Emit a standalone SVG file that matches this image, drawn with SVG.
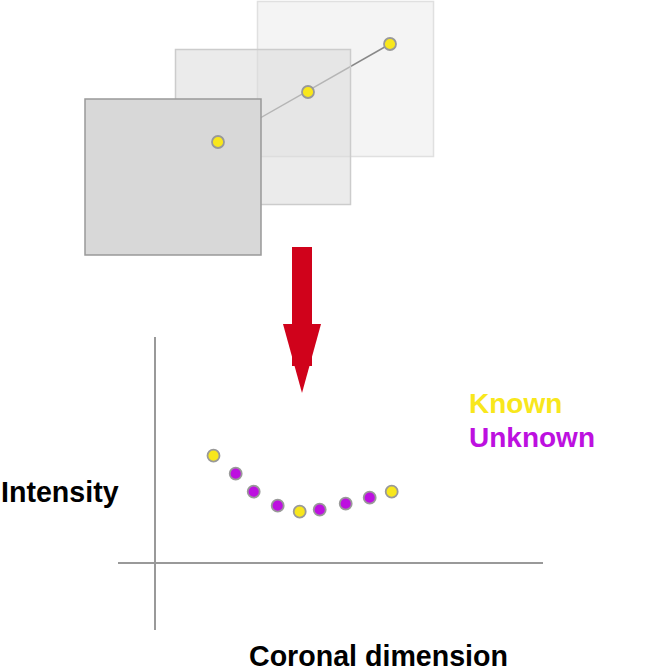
<svg xmlns="http://www.w3.org/2000/svg" width="664" height="672" viewBox="0 0 664 672">
<style>
.lbl{font-family:"Liberation Sans",Arial,Helvetica,sans-serif;font-weight:bold;font-size:28px}
.ax{font-size:28.6px}
.dot{stroke:#999;stroke-width:1.8}
.k{fill:#f8e71c}
.u{fill:#bd10e0}
.axis{stroke:#999;stroke-width:2;fill:none}
</style>
<rect width="664" height="672" fill="#fff"/>
<g id="slice3"><rect x="257.5" y="1.5" width="176" height="155" fill="#f4f4f4" stroke="#e0e0e0" stroke-width="1.5"/></g>
<g id="connectors">
<line x1="218" y1="142" x2="390" y2="44" stroke="#888" stroke-width="1.5"/>
</g>
<g id="slice2"><rect x="175.5" y="49.5" width="175" height="155" fill="#dadada" fill-opacity="0.55" stroke="#ccc" stroke-width="1.5"/></g>
<g id="slice1"><rect x="85" y="99" width="176" height="156" fill="#d8d8d8" stroke="#999" stroke-width="1.5"/></g>
<g id="slice-points">
<circle class="dot k" cx="218" cy="142" r="6"/>
<circle class="dot k" cx="308" cy="92" r="6"/>
<circle class="dot k" cx="390" cy="44" r="6"/>
</g>
<g id="arrow">
<polygon points="283,324 321,324 302,393" fill="#d0021b"/>
<rect x="292" y="247" width="20" height="119" fill="#d0021b"/>
</g>
<g id="axes">
<line class="axis" x1="155" y1="337" x2="155" y2="630"/>
<line class="axis" x1="118" y1="563" x2="543" y2="563"/>
</g>
<g id="curve-points">
<circle class="dot k" cx="213.5" cy="455.7" r="6"/>
<circle class="dot u" cx="235.7" cy="473.7" r="6"/>
<circle class="dot u" cx="253.7" cy="491.7" r="6"/>
<circle class="dot u" cx="277.7" cy="505.7" r="6"/>
<circle class="dot k" cx="299.7" cy="511.7" r="6"/>
<circle class="dot u" cx="319.7" cy="509.7" r="6"/>
<circle class="dot u" cx="345.7" cy="503.7" r="6"/>
<circle class="dot u" cx="369.7" cy="497.7" r="6"/>
<circle class="dot k" cx="391.7" cy="491.7" r="6"/>
</g>
<g id="legend">
<text class="lbl" x="469" y="413" fill="#f8e71c">Known</text>
<text class="lbl" x="469" y="447" fill="#bd10e0">Unknown</text>
</g>
<g id="labels">
<text class="lbl ax" x="1" y="502" fill="#000">Intensity</text>
<text class="lbl ax" x="249" y="666" fill="#000">Coronal dimension</text>
</g>
</svg>
